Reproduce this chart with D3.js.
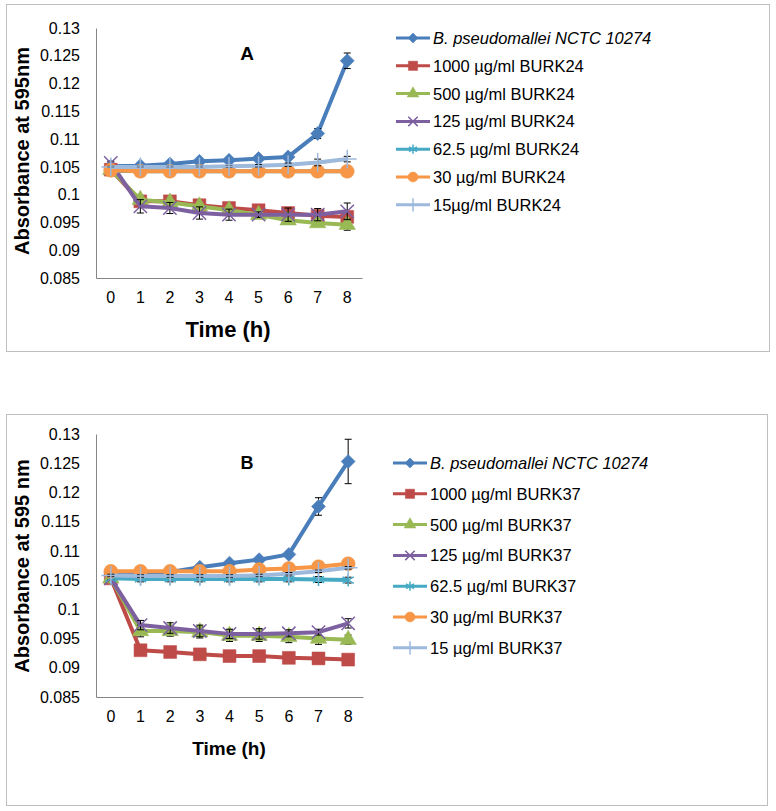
<!DOCTYPE html>
<html><head><meta charset="utf-8">
<script src="https://cdn.jsdelivr.net/npm/d3@7"></script>
<style>body{margin:0;background:#fff;font-family:Arial,"Liberation Sans",sans-serif}</style>
</head><body><svg id="c" width="776" height="811"></svg>
<script>
const hours = ["0","1","2","3","4","5","6","7","8"];
const yTicks = [0.085,0.09,0.095,0.1,0.105,0.11,0.115,0.12,0.125,0.13];
const seriesColors = ["#4A7EBB","#BE4B48","#98B954","#7D60A0","#46AAC5","#F79646","#9DB9DB"];
const seriesMarkers = ["diamond","square","triangle","x","asterisk","circle","plus"];
const labelsA = ["B. pseudomallei NCTC 10274","1000 µg/ml BURK24","500 µg/ml BURK24","125 µg/ml BURK24","62.5 µg/ml BURK24","30 µg/ml BURK24","15µg/ml BURK24"];
const labelsB = ["B. pseudomallei NCTC 10274","1000 µg/ml BURK37","500 µg/ml BURK37","125 µg/ml BURK37","62.5 µg/ml BURK37","30 µg/ml BURK37","15 µg/ml BURK37"];

const aBp   = [0.1051,0.1052,0.1055,0.1060,0.1062,0.1065,0.1068,0.1110,0.1241];
const a1000 = [0.1045,0.0988,0.0988,0.0981,0.0976,0.0972,0.0967,0.0962,0.0960];
const a500  = [0.1045,0.0991,0.0986,0.0979,0.0972,0.0964,0.0954,0.0949,0.0946];
const a125  = [0.1057,0.0979,0.0976,0.0967,0.0964,0.0964,0.0964,0.0964,0.0970];
const a62   = [0.1043,0.1042,0.1042,0.1042,0.1042,0.1042,0.1042,0.1042,0.1042];
const a30   = [0.1044,0.1042,0.1042,0.1042,0.1042,0.1042,0.1042,0.1042,0.1042];
const a15   = [0.1050,0.1050,0.1050,0.1050,0.1051,0.1052,0.1054,0.1058,0.1064];
const aBpErr   = [0.0002,0.0002,0.0002,0.0002,0.0002,0.0002,0.0003,0.0009,0.0014];
const a1000Err = [0.0003,0.0008,0.0005,0.0005,0.0005,0.0005,0.0005,0.0005,0.0005];
const a500Err  = [0.0003,0.0006,0.0006,0.0005,0.0005,0.0005,0.0005,0.0005,0.0010];
const a125Err  = [0.0003,0.0012,0.0010,0.0011,0.0010,0.0005,0.0012,0.0011,0.0015];
const a62Err   = [0,0,0,0,0,0,0,0,0];
const a30Err   = [0.0002,0.0002,0.0002,0.0002,0.0002,0.0002,0.0002,0.0002,0.0002];
const a15Err   = [0.0001,0.0001,0.0001,0.0001,0.0001,0.0002,0.0003,0.0006,0.0005];

const bBp   = [0.1060,0.1062,0.1064,0.1072,0.1079,0.1085,0.1094,0.1176,0.1253];
const b1000 = [0.1053,0.0930,0.0927,0.0923,0.0920,0.0920,0.0917,0.0916,0.0914];
const b500  = [0.1053,0.0963,0.0963,0.0961,0.0955,0.0955,0.0953,0.0950,0.0948];
const b125  = [0.1053,0.0973,0.0968,0.0963,0.0958,0.0958,0.0959,0.0961,0.0976];
const b62   = [0.1053,0.1052,0.1052,0.1052,0.1052,0.1052,0.1052,0.1051,0.1050];
const b30   = [0.1065,0.1065,0.1065,0.1065,0.1065,0.1068,0.1070,0.1073,0.1078];
const b15   = [0.1058,0.1057,0.1057,0.1057,0.1057,0.1058,0.1061,0.1065,0.1071];
const bBpErr   = [0.0002,0.0002,0.0002,0.0002,0.0002,0.0002,0.0002,0.0015,0.0038];
const b1000Err = [0.0002,0.0002,0.0002,0.0002,0.0002,0.0002,0.0002,0.0002,0.0002];
const b500Err  = [0.0002,0.0010,0.0009,0.0010,0.0010,0.0010,0.0010,0.0010,0.0008];
const b125Err  = [0.0002,0.0008,0.0009,0.0010,0.0008,0.0009,0.0006,0.0005,0.0008];
const b62Err   = [0.0002,0.0005,0.0005,0.0005,0.0005,0.0005,0.0005,0.0005,0.0005];
const b30Err   = [0.0002,0.0002,0.0002,0.0002,0.0002,0.0002,0.0002,0.0002,0.0002];
const b15Err   = [0.0002,0.0002,0.0002,0.0002,0.0002,0.0002,0.0002,0.0002,0.0002];

const svg = d3.select("#c");
const FONT = "Arial, 'Liberation Sans', sans-serif";

function markerPath(type, s) {
  switch (type) {
    case "diamond": return {d: d3.symbol(d3.symbolSquare, s*s*0.5)(), rot: 45, fill: true};
    case "square": return {d: d3.symbol(d3.symbolSquare, s*s*0.85)(), rot: 0, fill: true};
    case "triangle": return {d: d3.symbol(d3.symbolTriangle, s*s*0.6)(), rot: 0, fill: true};
    case "circle": return {d: d3.symbol(d3.symbolCircle, s*s*0.78)(), rot: 0, fill: true};
    case "x": return {d: d3.symbol(d3.symbolX, s*s*0.6)(), rot: 0, fill: false};
    case "asterisk": return {d: d3.symbol(d3.symbolAsterisk, s*s*0.6)(), rot: 0, fill: false};
    case "plus": return {d: d3.symbol(d3.symbolPlus, s*s*0.6)(), rot: 0, fill: false};
  }
}

function drawMarker(g, type, color, x, y, s) {
  const m = markerPath(type, s);
  const p = g.append("path").attr("d", m.d)
    .attr("transform", `translate(${x},${y}) rotate(${m.rot})`);
  if (m.fill) p.attr("fill", color).attr("stroke", color).attr("stroke-width", 0.5);
  else p.attr("fill", "none").attr("stroke", color).attr("stroke-width", 1.5);
}

function drawPanel(cfg) {
  const g = svg.append("g").attr("font-family", FONT);
  g.append("rect").attr("x", cfg.box[0]+0.5).attr("y", cfg.box[1]+0.5)
    .attr("width", cfg.box[2]-cfg.box[0]).attr("height", cfg.box[3]-cfg.box[1])
    .attr("fill", "none").attr("stroke", "#BFBFBF").attr("stroke-width", 1);

  const x = d3.scaleBand().domain(hours).range([cfg.left, cfg.right]);
  const y = d3.scaleLinear().domain([0.085, 0.13]).range([cfg.bottom, cfg.top]);
  const cx = h => x(h) + x.bandwidth()/2;

  const yAx = g.append("g").attr("transform", `translate(${cfg.left},0)`)
    .call(d3.axisLeft(y).tickValues(yTicks).tickSize(0).tickPadding(16).tickFormat(d => +d.toFixed(3) + ""));
  yAx.select(".domain").attr("stroke", "#868686");
  yAx.selectAll("text").attr("font-size", 16).attr("font-family", FONT).attr("fill", "#000");
  const xAx = g.append("g").attr("transform", `translate(0,${cfg.bottom})`)
    .call(d3.axisBottom(x).tickSize(0).tickPadding(14));
  xAx.select(".domain").attr("stroke", "#868686");
  xAx.selectAll("text").attr("font-size", 16).attr("font-family", FONT).attr("fill", "#000");

  g.append("text").attr("x", cfg.xTitle[0]).attr("y", cfg.xTitle[1]).attr("text-anchor", "middle")
    .attr("font-weight", "bold").attr("font-size", cfg.xTitleSize).text("Time (h)");
  g.append("text").attr("transform", `translate(${cfg.yTitle[0]},${cfg.yTitle[1]}) rotate(-90)`)
    .attr("text-anchor", "middle").attr("dominant-baseline", "central")
    .attr("font-weight", "bold").attr("font-size", 20).text(cfg.yTitleText);
  g.append("text").attr("x", cfg.letter[0]).attr("y", cfg.letter[1]).attr("text-anchor", "middle")
    .attr("font-weight", "bold").attr("font-size", cfg.letterSize).text(cfg.letterText);

  const line = d3.line().x((d, i) => cx(hours[i])).y(d => y(d));

  cfg.values.forEach((vals, si) => {
    const color = seriesColors[si];
    g.append("path").datum(vals).attr("d", line).attr("fill", "none")
      .attr("stroke", color).attr("stroke-width", 4).attr("stroke-linejoin", "round");
    vals.forEach((v, i) => {
      const e = cfg.errors[si][i];
      if (!e) return;
      const px = cx(hours[i]);
      const eg = g.append("g").attr("stroke", "#000").attr("stroke-width", 1);
      eg.append("line").attr("x1", px).attr("x2", px).attr("y1", y(v - e)).attr("y2", y(v + e));
      eg.append("line").attr("x1", px-3.5).attr("x2", px+3.5).attr("y1", y(v - e)).attr("y2", y(v - e));
      eg.append("line").attr("x1", px-3.5).attr("x2", px+3.5).attr("y1", y(v + e)).attr("y2", y(v + e));
    });
    vals.forEach((v, i) => drawMarker(g, seriesMarkers[si], color, cx(hours[i]), y(v), 14));
  });

  cfg.labels.forEach((lab, i) => {
    const ly = cfg.legendY + i * cfg.legendStep;
    const color = seriesColors[i];
    g.append("line").attr("x1", cfg.legendX).attr("x2", cfg.legendX + 34)
      .attr("y1", ly).attr("y2", ly).attr("stroke", color).attr("stroke-width", 3);
    drawMarker(g, seriesMarkers[i], color, cfg.legendX + 17, ly, 10);
    g.append("text").attr("x", cfg.legendX + 37).attr("y", ly).attr("dominant-baseline", "central")
      .attr("font-size", 16.5).attr("font-style", i === 0 ? "italic" : "normal").text(lab);
  });
}

drawPanel({
  box: [6, 4, 769, 351], left: 96, right: 362, top: 28, bottom: 278,
  xTitle: [228, 337], xTitleSize: 22, yTitle: [22, 151], yTitleText: "Absorbance at 595nm",
  letter: [247, 60], letterText: "A", letterSize: 19,
  values: [aBp, a1000, a500, a125, a62, a30, a15],
  errors: [aBpErr, a1000Err, a500Err, a125Err, a62Err, a30Err, a15Err],
  labels: labelsA, legendX: 396, legendY: 38, legendStep: 27.8
});
drawPanel({
  box: [6, 414, 767, 805], left: 96, right: 363, top: 434, bottom: 697,
  xTitle: [229, 755], xTitleSize: 19, yTitle: [22, 566], yTitleText: "Absorbance at 595 nm",
  letter: [247, 469], letterText: "B", letterSize: 18,
  values: [bBp, b1000, b500, b125, b62, b30, b15],
  errors: [bBpErr, b1000Err, b500Err, b125Err, b62Err, b30Err, b15Err],
  labels: labelsB, legendX: 393, legendY: 463, legendStep: 30.8
});
</script></body></html>
